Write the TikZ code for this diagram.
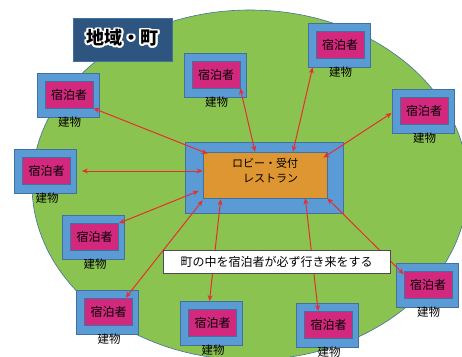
\documentclass[tikz,border=0pt]{standalone}
\usepackage{fontspec}
\newfontfamily\cjk{Noto Sans CJK JP}
\usetikzlibrary{arrows.meta,calc}
\definecolor{fieldgreen}{RGB}{139,195,80}
\definecolor{edgeblue}{RGB}{65,113,156}
\definecolor{boxblue}{RGB}{91,155,213}
\definecolor{guestpink}{RGB}{210,40,125}
\definecolor{lobbyorange}{RGB}{222,150,50}
\definecolor{titleblue}{RGB}{46,84,128}
\definecolor{linkred}{RGB}{232,45,45}
\begin{document}
\begin{tikzpicture}[x=1pt,y=-1pt,
 outerbox/.style={draw=edgeblue,fill=boxblue,line width=0.8pt,minimum width=62pt,minimum height=44pt,inner sep=0pt},
 innerbox/.style={draw=edgeblue,fill=guestpink,line width=0.6pt,minimum width=48pt,minimum height=27pt,inner sep=0pt,font=\cjk\fontsize{12}{14}\selectfont},
 bldlabel/.style={font=\cjk\fontsize{11.5}{13}\selectfont,inner sep=0pt},
 link/.style={draw=linkred,line width=1pt,{Stealth[length=6pt,width=5pt]}-{Stealth[length=6pt,width=5pt]}},
 titlefont/.style={font=\cjk\bfseries\fontsize{18}{20}\selectfont,inner sep=0pt},
]
\fill[white] (0,0) rectangle (462,356);
\useasboundingbox (0,0) rectangle (462,356);
\draw[fill=fieldgreen,draw=edgeblue,line width=0.6pt] (250,185) ellipse [x radius=218pt,y radius=175pt];

\node[draw=edgeblue,fill=boxblue,line width=0.8pt,minimum width=158pt,minimum height=71pt,inner sep=0pt] (hall) at (264,177.5) {};
\node[draw=edgeblue,fill=lobbyorange,line width=0.6pt,minimum width=124pt,minimum height=46pt,inner sep=0pt] (core) at (265,175) {};
\node[font=\cjk\fontsize{11}{15}\selectfont,align=left,inner sep=0pt] (coretext) at (265,171) {ロビー・受付\\　レストラン};

\foreach \n/\x/\y in {1/215/75, 2/339/45, 3/423/111, 4/68/95, 5/45.5/171, 6/93.5/237.5, 7/107.5/312, 8/211.5/323.5, 9/327.5/325.5, 10/427/285.5}{
  \node[outerbox] (b\n) at (\x,\y) {};
  \node[innerbox] (i\n) at (\x+1,\y-0.5) {宿泊者};
  \node[bldlabel] (l\n) at (\x+1.5,\y+27) {建物};
}

\draw[link] (i1.south east) -- ([xshift=-10pt]core.north);
\draw[link] ([xshift=5pt]b2.south west) -- ([xshift=28pt]core.north);
\draw[link] ([yshift=-2pt]b3.west) -- ([xshift=-4pt,yshift=-6pt]core.north east);
\draw[link] (i4.south east) -- ([xshift=5pt,yshift=-2pt]core.north west);
\draw[link] ([xshift=5pt]b5.east) -- ([yshift=4pt]core.west);
\draw[link] (i6.north east) -- ([xshift=-4pt,yshift=-16pt]core.west);
\draw[link] ([xshift=-7pt]i7.north east) -- ([yshift=-2pt]core.south west);
\draw[link] ([xshift=-2pt]b8.north) -- ([xshift=18pt,yshift=-1pt]core.south west);
\draw[link] ([xshift=14pt]i9.north west) -- ([xshift=-22pt]core.south east);
\draw[link] ([yshift=-3pt]i10.north west) -- (core.south east);

\node[draw=black!70,fill=white,line width=1pt,minimum width=227pt,minimum height=23pt,inner sep=0pt,font=\cjk\fontsize{12}{14}\selectfont] (note) at (276.5,261.5) {町の中を宿泊者が必ず行き来をする};

\node[fill=titleblue,draw=edgeblue,line width=0.6pt,minimum width=99pt,minimum height=43pt,inner sep=0pt] (title) at (122.5,39.5) {};
\foreach \a in {0,30,...,330}{
  \node[titlefont,text=white] (halo\a) at ($(title)+(\a:1.8)+(0,-1.5)$) {地域・町};
}
\node[titlefont,text=black] (titletext) at ($(title)+(0,-1.5)$) {地域・町};
\end{tikzpicture}
\end{document}
